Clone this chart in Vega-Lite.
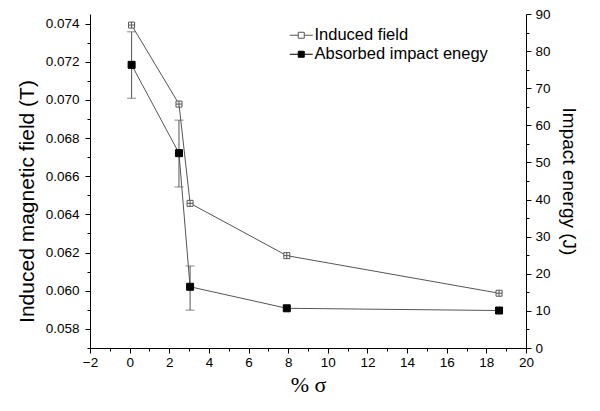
{
  "$schema": "https://vega.github.io/schema/vega-lite/v6.json",
  "width": 436,
  "height": 334,
  "autosize": "none",
  "padding": {"left": 90, "top": 14, "right": 74, "bottom": 63},
  "background": "white",
  "config": {
    "view": {"stroke": null},
    "axis": {
      "grid": false,
      "domainColor": "#000",
      "tickColor": "#000",
      "labelColor": "#000",
      "titleColor": "#000",
      "labelFont": "Liberation Sans",
      "titleFont": "Liberation Sans",
      "titleFontWeight": "normal",
      "labelFontSize": 13.5
    }
  },
  "datasets": {
    "field": [
      {"pct": 0.1, "B": 0.07392, "series": "Induced field"},
      {"pct": 2.49, "B": 0.06978, "series": "Induced field"},
      {"pct": 3.05, "B": 0.06458, "series": "Induced field"},
      {"pct": 7.93, "B": 0.06184, "series": "Induced field"},
      {"pct": 18.64, "B": 0.05987, "series": "Induced field"}
    ],
    "energy": [
      {"pct": 0.1, "E": 76.3, "lo": 67.3, "hi": 85.2, "series": "Absorbed impact enegy"},
      {"pct": 2.49, "E": 52.5, "lo": 43.4, "hi": 61.4, "series": "Absorbed impact enegy"},
      {"pct": 3.05, "E": 16.5, "lo": 10.2, "hi": 22.1, "series": "Absorbed impact enegy"},
      {"pct": 7.93, "E": 10.7, "lo": null, "hi": null, "series": "Absorbed impact enegy"},
      {"pct": 18.64, "E": 10.1, "lo": null, "hi": null, "series": "Absorbed impact enegy"}
    ]
  },
  "encoding": {
    "x": {
      "field": "pct",
      "type": "quantitative",
      "scale": {"domain": [-2, 20], "nice": false, "zero": false},
      "axis": {
        "title": "% σ",
        "titleFont": "Liberation Serif",
        "titleFontSize": 22,
        "titlePadding": 6,
        "values": [-2, -1, 0, 1, 2, 3, 4, 5, 6, 7, 8, 9, 10, 11, 12, 13, 14, 15, 16, 17, 18, 19, 20],
        "labelExpr": "datum.value % 2 == 0 ? datum.label : ''",
        "tickSize": {"condition": {"test": "datum.value % 2 != 0", "value": 3}, "value": 5},
        "labelPadding": 2,
        "labelFlush": false,
        "labelOverlap": false
      }
    }
  },
  "layer": [
    {
      "data": {"name": "field"},
      "encoding": {
        "y": {
          "field": "B",
          "type": "quantitative",
          "scale": {"domain": [0.057, 0.0745], "nice": false, "zero": false},
          "axis": {
            "orient": "left",
            "title": "Induced magnetic field (T)",
            "titleFontSize": 21,
            "titlePadding": 8,
            "titleY": 187,
            "values": [0.057, 0.058, 0.059, 0.06, 0.061, 0.062, 0.063, 0.064, 0.065, 0.066, 0.067, 0.068, 0.069, 0.07, 0.071, 0.072, 0.073, 0.074],
            "labelExpr": "round(datum.value * 1000) % 2 == 0 ? format(datum.value, '.3f') : ''",
            "tickSize": {"condition": {"test": "round(datum.value * 1000) % 2 != 0", "value": 3}, "value": 5},
            "labelPadding": 6,
            "labelOverlap": false
          }
        }
      },
      "layer": [
        {"mark": {"type": "line", "color": "#555", "strokeWidth": 1}},
        {
          "mark": {"type": "point", "shape": "M-1,-1H1V1H-1ZM0,-1V1M-1,0H1", "size": 36, "strokeWidth": 1, "opacity": 1},
          "encoding": {
            "fill": {
              "field": "series", "type": "nominal",
              "scale": {"domain": ["Induced field", "Absorbed impact enegy"], "range": ["white", "black"]},
              "legend": {
                "orient": "none", "legendX": 203, "legendY": 13, "title": null,
                "symbolType": "M-2.3,0H-0.6M0.6,0H2.3M-0.6,-0.6H0.6V0.6H-0.6Z",
                "symbolSize": 100, "symbolStrokeWidth": 1,
                "labelFont": "Liberation Sans", "labelFontSize": 16.5, "labelColor": "#000",
                "labelOffset": 5, "labelLimit": 300, "padding": 0, "rowPadding": 2
              }
            },
            "stroke": {
              "field": "series", "type": "nominal",
              "scale": {"domain": ["Induced field", "Absorbed impact enegy"], "range": ["#555", "black"]},
              "legend": {
                "orient": "none", "legendX": 203, "legendY": 13, "title": null,
                "symbolType": "M-2.3,0H-0.6M0.6,0H2.3M-0.6,-0.6H0.6V0.6H-0.6Z",
                "symbolSize": 100, "symbolStrokeWidth": 1,
                "labelFont": "Liberation Sans", "labelFontSize": 16.5, "labelColor": "#000",
                "labelOffset": 5, "labelLimit": 300, "padding": 0, "rowPadding": 2
              }
            }
          }
        }
      ]
    },
    {
      "data": {"name": "energy"},
      "layer": [
        {
          "mark": {"type": "line", "color": "#555", "strokeWidth": 1},
          "encoding": {
            "y": {
              "field": "E", "type": "quantitative",
              "scale": {"domain": [0, 90], "nice": false, "zero": false},
              "axis": {
                "orient": "right", "title": "Impact energy (J)", "titleFontSize": 19, "titlePadding": 8,
                "values": [0, 5, 10, 15, 20, 25, 30, 35, 40, 45, 50, 55, 60, 65, 70, 75, 80, 85, 90],
                "labelExpr": "datum.value % 10 == 0 ? datum.label : ''",
                "tickSize": {"condition": {"test": "datum.value % 10 != 0", "value": 3}, "value": 5},
                "labelPadding": 4, "labelOverlap": false
              }
            }
          }
        },
        {
          "mark": {"type": "rule", "color": "#555", "strokeWidth": 1},
          "encoding": {
            "y": {
              "field": "lo", "type": "quantitative",
              "scale": {"domain": [0, 90], "nice": false, "zero": false},
              "axis": {
                "orient": "right", "title": "Impact energy (J)", "titleFontSize": 19, "titlePadding": 8,
                "values": [0, 5, 10, 15, 20, 25, 30, 35, 40, 45, 50, 55, 60, 65, 70, 75, 80, 85, 90],
                "labelExpr": "datum.value % 10 == 0 ? datum.label : ''",
                "tickSize": {"condition": {"test": "datum.value % 10 != 0", "value": 3}, "value": 5},
                "labelPadding": 4, "labelOverlap": false
              }
            },
            "y2": {"field": "hi"}
          }
        },
        {
          "mark": {"type": "tick", "orient": "horizontal", "size": 9, "thickness": 1, "color": "#555"},
          "encoding": {
            "y": {
              "field": "lo", "type": "quantitative",
              "scale": {"domain": [0, 90], "nice": false, "zero": false},
              "axis": {
                "orient": "right", "title": "Impact energy (J)", "titleFontSize": 19, "titlePadding": 8,
                "values": [0, 5, 10, 15, 20, 25, 30, 35, 40, 45, 50, 55, 60, 65, 70, 75, 80, 85, 90],
                "labelExpr": "datum.value % 10 == 0 ? datum.label : ''",
                "tickSize": {"condition": {"test": "datum.value % 10 != 0", "value": 3}, "value": 5},
                "labelPadding": 4, "labelOverlap": false
              }
            }
          }
        },
        {
          "mark": {"type": "tick", "orient": "horizontal", "size": 9, "thickness": 1, "color": "#555"},
          "encoding": {
            "y": {
              "field": "hi", "type": "quantitative",
              "scale": {"domain": [0, 90], "nice": false, "zero": false},
              "axis": {
                "orient": "right", "title": "Impact energy (J)", "titleFontSize": 19, "titlePadding": 8,
                "values": [0, 5, 10, 15, 20, 25, 30, 35, 40, 45, 50, 55, 60, 65, 70, 75, 80, 85, 90],
                "labelExpr": "datum.value % 10 == 0 ? datum.label : ''",
                "tickSize": {"condition": {"test": "datum.value % 10 != 0", "value": 3}, "value": 5},
                "labelPadding": 4, "labelOverlap": false
              }
            }
          }
        },
        {
          "mark": {"type": "point", "shape": "square", "size": 49, "strokeWidth": 1, "opacity": 1},
          "encoding": {
            "y": {
              "field": "E", "type": "quantitative",
              "scale": {"domain": [0, 90], "nice": false, "zero": false},
              "axis": {
                "orient": "right", "title": "Impact energy (J)", "titleFontSize": 19, "titlePadding": 8,
                "values": [0, 5, 10, 15, 20, 25, 30, 35, 40, 45, 50, 55, 60, 65, 70, 75, 80, 85, 90],
                "labelExpr": "datum.value % 10 == 0 ? datum.label : ''",
                "tickSize": {"condition": {"test": "datum.value % 10 != 0", "value": 3}, "value": 5},
                "labelPadding": 4, "labelOverlap": false
              }
            },
            "fill": {"field": "series", "type": "nominal"},
            "stroke": {"field": "series", "type": "nominal"}
          }
        }
      ]
    }
  ],
  "resolve": {"scale": {"y": "independent"}}
}
